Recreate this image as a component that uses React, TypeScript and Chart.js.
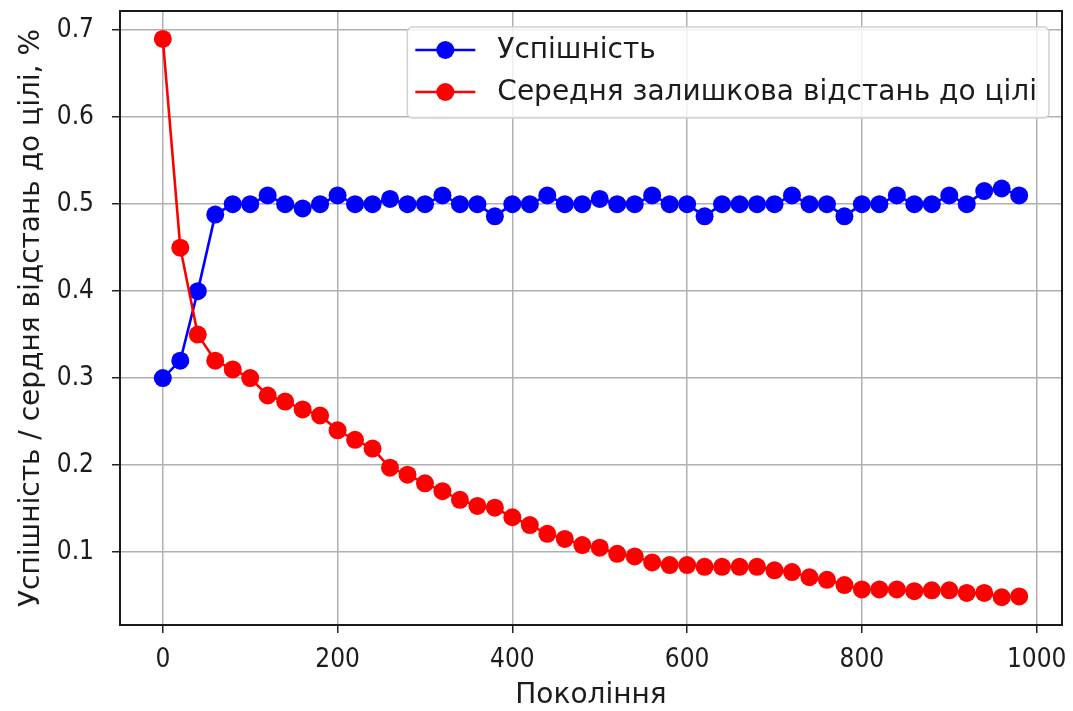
import React, { useEffect, useRef } from 'react';
import { Chart, registerables } from 'chart.js';

Chart.register(...registerables);

const generations = [0, 20, 40, 60, 80, 100, 120, 140, 160, 180, 200, 220, 240, 260, 280, 300, 320, 340, 360, 380, 400, 420, 440, 460, 480, 500, 520, 540, 560, 580, 600, 620, 640, 660, 680, 700, 720, 740, 760, 780, 800, 820, 840, 860, 880, 900, 920, 940, 960, 980];

const successRate = [0.30, 0.32, 0.40, 0.488, 0.50, 0.50, 0.51, 0.50, 0.495, 0.50, 0.51, 0.50, 0.50, 0.506, 0.50, 0.50, 0.51, 0.50, 0.50, 0.486, 0.50, 0.50, 0.51, 0.50, 0.50, 0.506, 0.50, 0.50, 0.51, 0.50, 0.50, 0.486, 0.50, 0.50, 0.50, 0.50, 0.51, 0.50, 0.50, 0.486, 0.50, 0.50, 0.51, 0.50, 0.50, 0.51, 0.50, 0.515, 0.518, 0.51];

const residualDistance = [0.69, 0.45, 0.35, 0.32, 0.31, 0.30, 0.28, 0.273, 0.264, 0.257, 0.24, 0.229, 0.219, 0.197, 0.189, 0.179, 0.17, 0.16, 0.153, 0.151, 0.14, 0.131, 0.121, 0.115, 0.108, 0.105, 0.098, 0.095, 0.088, 0.085, 0.085, 0.083, 0.083, 0.083, 0.083, 0.079, 0.077, 0.071, 0.068, 0.062, 0.057, 0.057, 0.057, 0.055, 0.056, 0.056, 0.053, 0.053, 0.048, 0.049];

const xTicks = [0, 200, 400, 600, 800, 1000];
const yTicks = [0.1, 0.2, 0.3, 0.4, 0.5, 0.6, 0.7];

const seriesLabels = ['Успішність', 'Середня залишкова відстань до цілі'];
const seriesColors = ['#0000ff', '#ff0000'];
const xTitle = 'Покоління';
const yTitle = 'Успішність / сердня відстань до цілі, %';

const TICK_FONT = "'DejaVu Sans Condensed', 'DejaVu Sans', sans-serif";
const TEXT_FONT = "'DejaVu Sans', sans-serif";
const TICK_FS = 26;
const TEXT_FS = 28;
const TEXT = '#1c1c1c';

const framePlugin = {
  id: 'frame',
  afterDatasetsDraw(chart: any) {
    const { ctx, chartArea: a } = chart;
    ctx.save();
    ctx.strokeStyle = '#1a1a1a';
    ctx.lineWidth = 2;
    ctx.strokeRect(a.left, a.top, a.right - a.left, a.bottom - a.top);
    ctx.restore();
  },
};

const legendPlugin = {
  id: 'mplLegend',
  afterDatasetsDraw(chart: any) {
    const { ctx, chartArea: a } = chart;
    ctx.save();
    ctx.font = `${TEXT_FS}px ${TEXT_FONT}`;
    const textW = Math.max(...seriesLabels.map((l) => ctx.measureText(l).width));
    const boxRight = a.right - 13;
    const boxTop = a.top + 16;
    const rowH = 42;
    const boxH = 91;
    const textOffset = 90;
    const boxW = textOffset + textW + 12;
    const boxLeft = boxRight - boxW;
    const r = 5;
    ctx.beginPath();
    ctx.moveTo(boxLeft + r, boxTop);
    ctx.lineTo(boxRight - r, boxTop);
    ctx.arcTo(boxRight, boxTop, boxRight, boxTop + r, r);
    ctx.lineTo(boxRight, boxTop + boxH - r);
    ctx.arcTo(boxRight, boxTop + boxH, boxRight - r, boxTop + boxH, r);
    ctx.lineTo(boxLeft + r, boxTop + boxH);
    ctx.arcTo(boxLeft, boxTop + boxH, boxLeft, boxTop + boxH - r, r);
    ctx.lineTo(boxLeft, boxTop + r);
    ctx.arcTo(boxLeft, boxTop, boxLeft + r, boxTop, r);
    ctx.closePath();
    ctx.fillStyle = 'rgba(255,255,255,0.8)';
    ctx.fill();
    ctx.strokeStyle = '#d0d0d0';
    ctx.lineWidth = 1.5;
    ctx.stroke();
    seriesLabels.forEach((label, i) => {
      const cy = boxTop + 23 + i * rowH;
      const x0 = boxLeft + 8;
      ctx.strokeStyle = seriesColors[i];
      ctx.lineWidth = 2.6;
      ctx.beginPath();
      ctx.moveTo(x0, cy);
      ctx.lineTo(x0 + 60, cy);
      ctx.stroke();
      ctx.fillStyle = seriesColors[i];
      ctx.beginPath();
      ctx.arc(x0 + 30, cy, 9, 0, Math.PI * 2);
      ctx.fill();
      ctx.fillStyle = TEXT;
      ctx.textAlign = 'left';
      ctx.textBaseline = 'middle';
      ctx.fillText(label, boxLeft + textOffset, cy + 1);
    });
    ctx.restore();
  },
};

export default function App() {
  const ref = useRef<HTMLCanvasElement | null>(null);

  useEffect(() => {
    document.body.style.margin = '0';
    document.body.style.overflow = 'hidden';
    const canvas = ref.current;
    if (!canvas) return;
    const makeData = (ys: number[]) => generations.map((g, i) => ({ x: g, y: ys[i] }));
    const chart = new Chart(canvas, {
      type: 'line',
      data: {
        datasets: [
          {
            label: seriesLabels[0],
            data: makeData(successRate),
            borderColor: seriesColors[0],
            backgroundColor: seriesColors[0],
            borderWidth: 2.6,
            pointRadius: 9,
            pointBorderWidth: 0,
            pointBackgroundColor: seriesColors[0],
            tension: 0,
            order: 1,
          },
          {
            label: seriesLabels[1],
            data: makeData(residualDistance),
            borderColor: seriesColors[1],
            backgroundColor: seriesColors[1],
            borderWidth: 2.6,
            pointRadius: 9,
            pointBorderWidth: 0,
            pointBackgroundColor: seriesColors[1],
            tension: 0,
            order: 0,
          },
        ],
      },
      options: {
        responsive: false,
        animation: false,
        events: [],
        layout: { padding: { top: 11, right: 11, left: 0, bottom: 0 } },
        plugins: { legend: { display: false }, tooltip: { enabled: false } },
        scales: {
          x: {
            type: 'linear',
            min: -49,
            max: 1029,
            afterBuildTicks: (s: any) => {
              s.ticks = xTicks.map((v) => ({ value: v }));
            },
            afterFit: (s: any) => {
              s.height = 86;
              s.paddingLeft = 0;
              s.paddingRight = 0;
            },
            grid: { color: '#b0b0b0', lineWidth: 1.5, tickLength: 8, tickColor: '#222', tickWidth: 1.5 },
            border: { display: false },
            ticks: {
              color: TEXT,
              padding: 12,
              autoSkip: false,
              maxRotation: 0,
              font: { family: TICK_FONT, size: TICK_FS },
              callback: (v: any) => String(v),
            },
            title: {
              display: true,
              text: xTitle,
              color: TEXT,
              font: { family: TEXT_FONT, size: TEXT_FS, lineHeight: 1 },
              padding: { top: 0, bottom: 1 },
            },
          },
          y: {
            type: 'linear',
            min: 0.0161,
            max: 0.7221,
            afterBuildTicks: (s: any) => {
              s.ticks = yTicks.map((v) => ({ value: v }));
            },
            afterFit: (s: any) => {
              s.width = 120;
              s.paddingTop = 0;
              s.paddingBottom = 0;
            },
            grid: { color: '#b0b0b0', lineWidth: 1.5, tickLength: 8, tickColor: '#222', tickWidth: 1.5 },
            border: { display: false },
            ticks: {
              color: TEXT,
              padding: 18,
              autoSkip: false,
              font: { family: TICK_FONT, size: TICK_FS },
              callback: (v: any) => Number(v).toFixed(1),
            },
            title: {
              display: true,
              text: yTitle,
              color: TEXT,
              font: { family: TEXT_FONT, size: TEXT_FS, lineHeight: 1 },
              padding: { top: 18, bottom: 0 },
            },
          },
        },
      },
      plugins: [framePlugin, legendPlugin],
    } as any);
    return () => chart.destroy();
  }, []);

  return (
    <div style={{ width: 1073, height: 711, overflow: 'hidden' }}>
      <canvas ref={ref} width={1073} height={711} style={{ display: 'block', width: 1073, height: 711 }} />
    </div>
  );
}
